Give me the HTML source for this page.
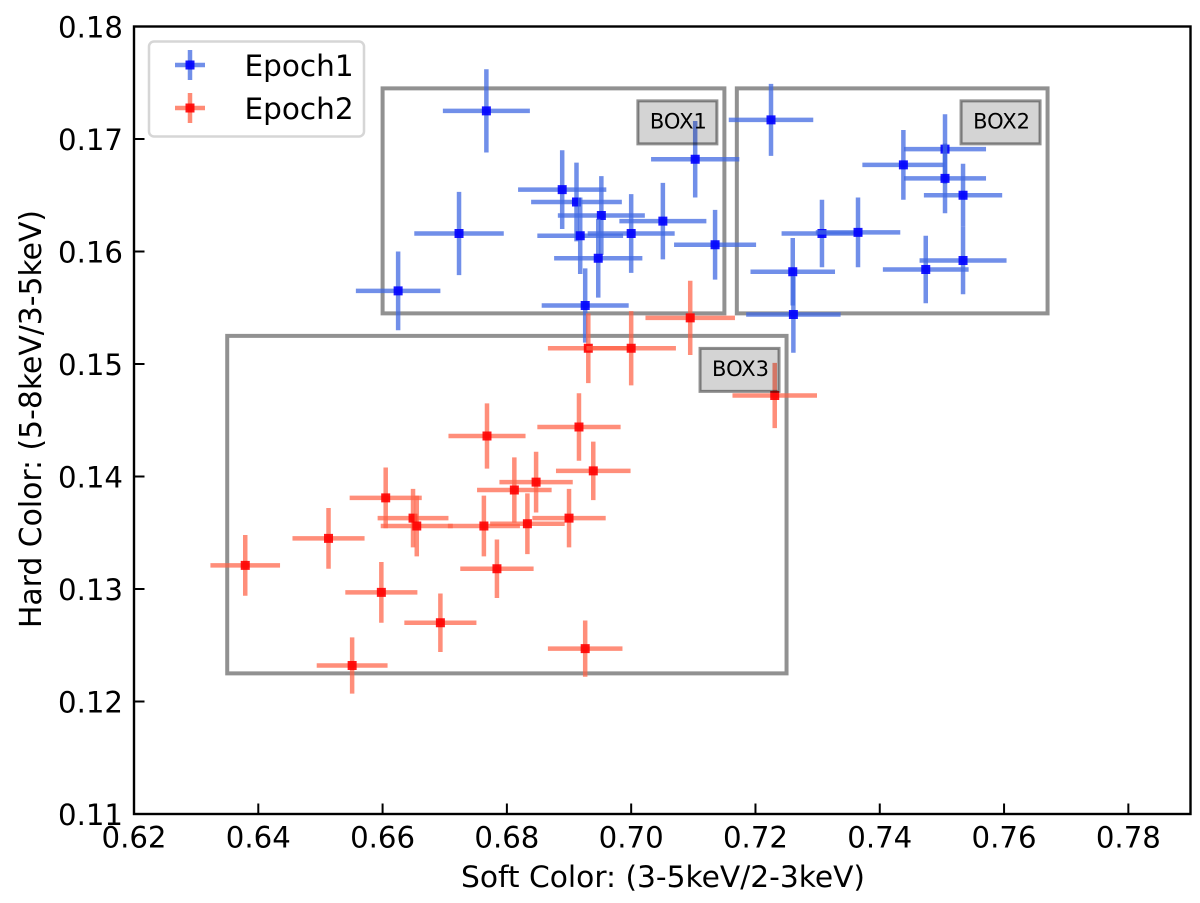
<!DOCTYPE html>
<html lang="en">
<head>
<meta charset="utf-8">
<title>Hard Color vs Soft Color</title>
<style>
  html, body { margin: 0; padding: 0; background: #fff; }
  svg { display: block; font-family: "DejaVu Sans", "Liberation Sans", sans-serif; }
</style>
</head>
<body>
<svg id="chart" xmlns="http://www.w3.org/2000/svg" width="1200" height="903" viewBox="0 0 1200 903">
  <rect x="0" y="0" width="1200" height="903" fill="#ffffff"/>
  <g id="boxes"></g>
  <g id="epoch1"></g>
  <g id="epoch2"></g>
  <g id="box-labels"></g>
  <g id="axes"></g>
  <text x="663" y="887" font-size="29.7" text-anchor="middle" fill="#000">Soft Color: (3-5keV/2-3keV)</text>
  <text transform="translate(41 419) rotate(-90)" font-size="29.8" text-anchor="middle" fill="#000">Hard Color: (5-8keV/3-5keV)</text>
  <g>
    <rect x="149" y="41.5" width="215" height="95" rx="5" fill="#fff" fill-opacity="0.8" stroke="#d6d6d6" stroke-width="2.5"/>
    <g>
      <line x1="175" y1="65" x2="205" y2="65" stroke="#4169e1" stroke-opacity="0.75" stroke-width="4.5"/>
      <line x1="190" y1="50" x2="190" y2="80" stroke="#4169e1" stroke-opacity="0.75" stroke-width="4.5"/>
      <rect x="185.5" y="60.5" width="9" height="9" fill="#0000ff" fill-opacity="0.9"/>
      <text x="244.5" y="76" font-size="29.5" fill="#000">Epoch1</text>
    </g>
    <g>
      <line x1="175" y1="108" x2="205" y2="108" stroke="#ff6347" stroke-opacity="0.75" stroke-width="4.5"/>
      <line x1="190" y1="93" x2="190" y2="123" stroke="#ff6347" stroke-opacity="0.75" stroke-width="4.5"/>
      <rect x="185.5" y="103.5" width="9" height="9" fill="#ff0000" fill-opacity="0.9"/>
      <text x="244.5" y="119" font-size="29.5" fill="#000">Epoch2</text>
    </g>
  </g>
</svg>
<script>
// ---- tick labels ----
const xTickLabels = ["0.62","0.64","0.66","0.68","0.70","0.72","0.74","0.76","0.78"];
const yTickLabels = ["0.11","0.12","0.13","0.14","0.15","0.16","0.17","0.18"];

// ---- Epoch 1 series ----
const epoch1X    = [0.6767,0.6723,0.6625,0.7103,0.7225,0.6889,0.6912,0.6952,0.7051,0.7000,0.6918,0.6947,0.7135,0.6926,0.7438,0.7505,0.7505,0.7534,0.7534,0.7307,0.7365,0.7260,0.7261,0.7474];
const epoch1Y    = [0.1725,0.1616,0.1565,0.1682,0.1717,0.1655,0.1644,0.1632,0.1627,0.1616,0.1614,0.1594,0.1606,0.1552,0.1677,0.1691,0.1665,0.1650,0.1592,0.1616,0.1617,0.1582,0.1544,0.1584];
const epoch1XErr = [0.0070,0.0072,0.0068,0.0071,0.0068,0.0071,0.0073,0.0070,0.0070,0.0070,0.0069,0.0071,0.0066,0.0070,0.0066,0.0066,0.0066,0.0063,0.0070,0.0065,0.0068,0.0068,0.0076,0.0069];
const epoch1YErr = [0.0037,0.0037,0.0035,0.0034,0.0032,0.0035,0.0035,0.0035,0.0034,0.0035,0.0034,0.0035,0.0031,0.0033,0.0031,0.0031,0.0031,0.0028,0.0030,0.0030,0.0031,0.0030,0.0034,0.0030];

// ---- Epoch 2 series ----
const epoch2X    = [0.6379,0.6513,0.6598,0.6551,0.6693,0.6605,0.6649,0.6655,0.6763,0.6784,0.6768,0.6812,0.6833,0.6847,0.6900,0.6916,0.6939,0.6926,0.7095,0.6931,0.7000,0.7231];
const epoch2Y    = [0.1321,0.1345,0.1297,0.1232,0.1270,0.1381,0.1363,0.1356,0.1356,0.1318,0.1436,0.1388,0.1358,0.1395,0.1363,0.1444,0.1405,0.1247,0.1541,0.1514,0.1514,0.1472];
const epoch2XErr = [0.0056,0.0058,0.0058,0.0057,0.0058,0.0058,0.0057,0.0058,0.0058,0.0059,0.0062,0.0060,0.0060,0.0059,0.0059,0.0067,0.0060,0.0060,0.0072,0.0065,0.0072,0.0068];
const epoch2YErr = [0.0027,0.0027,0.0027,0.0025,0.0026,0.0027,0.0026,0.0027,0.0027,0.0026,0.0029,0.0029,0.0027,0.0027,0.0026,0.0030,0.0026,0.0025,0.0033,0.0031,0.0033,0.0029];

// ---- selection boxes ----
const boxNames = ["BOX1","BOX2","BOX3"];
const boxXMin  = [0.660,0.717,0.635];
const boxXMax  = [0.715,0.767,0.725];
const boxYMin  = [0.1545,0.1545,0.1225];
const boxYMax  = [0.1745,0.1745,0.1525];

// ---- axis functions ----
const X_MIN = 0.62, X_MAX = 0.79, Y_MIN = 0.11, Y_MAX = 0.18;
const PLOT_L = 134, PLOT_R = 1190.5, PLOT_T = 26.5, PLOT_B = 814;
function xScale(v) { return PLOT_L + (v - X_MIN) / (X_MAX - X_MIN) * (PLOT_R - PLOT_L); }
function yScale(v) { return PLOT_B - (v - Y_MIN) / (Y_MAX - Y_MIN) * (PLOT_B - PLOT_T); }

const NS = "http://www.w3.org/2000/svg";
function make(tag, attrs, parent) {
  const el = document.createElementNS(NS, tag);
  for (const k in attrs) el.setAttribute(k, attrs[k]);
  parent.appendChild(el);
  return el;
}

// boxes
const boxesG = document.getElementById("boxes");
const labelsG = document.getElementById("box-labels");
boxNames.forEach(function (name, i) {
  const x1 = xScale(boxXMin[i]), x2 = xScale(boxXMax[i]);
  const y1 = yScale(boxYMax[i]), y2 = yScale(boxYMin[i]);
  const r = make("rect", {x: x1, y: y1, width: x2 - x1, height: y2 - y1, fill: "none", stroke: "#000", "stroke-opacity": 0.43, "stroke-width": 4}, boxesG);
  
  
  const lw = 79, lh = 43;
  const lx = x2 - 7.5 - lw;
  const ly = y1 + 12.5;
  const tag = make("rect", {x: lx, y: ly, width: lw, height: lh, fill: "#000", "fill-opacity": 0.17, stroke: "none"}, labelsG);
  
  
  const frame = make("rect", {x: lx, y: ly, width: lw, height: lh, fill: "none", stroke: "#000", "stroke-opacity": 0.43, "stroke-width": 3}, labelsG);
  
  
  const t = make("text", {x: lx + lw / 2 + 1, y: ly + 27.5, "font-size": 21, "text-anchor": "middle", fill: "#000"}, labelsG);
  
  
  t.textContent = name;
});

// series
function drawSeries(groupId, xs, ys, xe, ye, lineColor, markColor, lineOpacity) {
  const g = document.getElementById(groupId);
  xs.forEach(function (xv, i) {
    const cx = xScale(xv), cy = yScale(ys[i]);
    const h = make("line", {x1: xScale(xv - xe[i]), x2: xScale(xv + xe[i]), y1: cy, y2: cy, stroke: lineColor, "stroke-opacity": lineOpacity, "stroke-width": 4.5}, g);
    
    
    const v = make("line", {x1: cx, x2: cx, y1: yScale(ys[i] + ye[i]), y2: yScale(ys[i] - ye[i]), stroke: lineColor, "stroke-opacity": lineOpacity, "stroke-width": 4.5}, g);
    
    
    const m = make("rect", {x: cx - 4.5, y: cy - 4.5, width: 9, height: 9, fill: markColor, "fill-opacity": 0.9}, g);
    
    
  });
}
drawSeries("epoch1", epoch1X, epoch1Y, epoch1XErr, epoch1YErr, "#4169e1", "#0000ff", 0.75);
drawSeries("epoch2", epoch2X, epoch2Y, epoch2XErr, epoch2YErr, "#ff6347", "#ff0000", 0.72);

// axes
const axesG = document.getElementById("axes");
const frameRect = make("rect", {x: PLOT_L, y: PLOT_T, width: PLOT_R - PLOT_L, height: PLOT_B - PLOT_T, fill: "none", stroke: "#000", "stroke-width": 2.4}, axesG);



xTickLabels.forEach(function (lab) {
  const px = xScale(parseFloat(lab));
  const tk = make("line", {x1: px, x2: px, y1: PLOT_B, y2: PLOT_B - 10.5, stroke: "#000", "stroke-width": 2}, axesG);
  
  
  const t = make("text", {x: px, y: 847.5, "font-size": 29.2, "text-anchor": "middle", fill: "#000"}, axesG);
  
  
  t.textContent = lab;
});
yTickLabels.forEach(function (lab) {
  const py = yScale(parseFloat(lab));
  const tk = make("line", {x1: PLOT_L, x2: PLOT_L + 10.5, y1: py, y2: py, stroke: "#000", "stroke-width": 2}, axesG);
  
  
  const t = make("text", {x: 123, y: py + 11, "font-size": 29.2, "text-anchor": "end", fill: "#000"}, axesG);
  
  
  t.textContent = lab;
});
</script>
</body>
</html>
